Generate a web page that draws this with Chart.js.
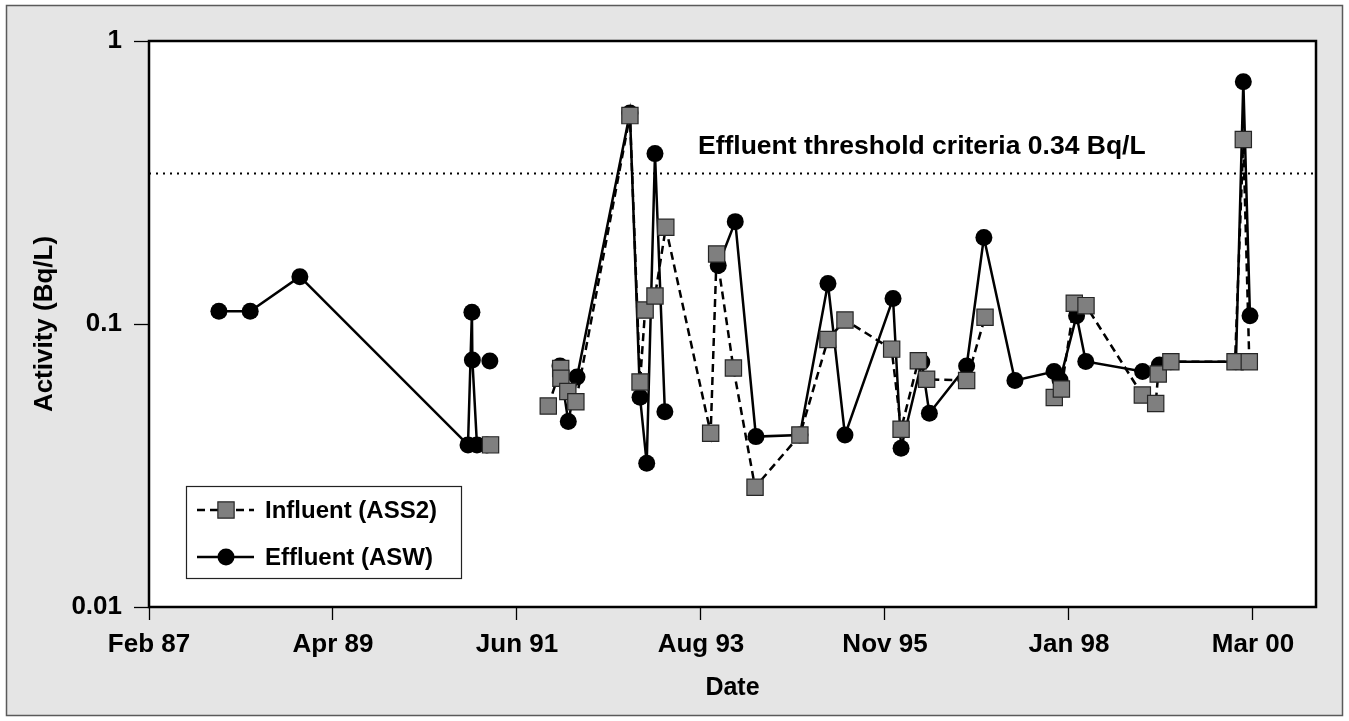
<!DOCTYPE html>
<html>
<head>
<meta charset="utf-8">
<title>Activity (Bq/L)</title>
<script src="https://cdn.jsdelivr.net/npm/chart.js@4.4.1/dist/chart.umd.min.js"></script>
<style>
  html, body { margin: 0; padding: 0; background: #fff; }
  canvas { display: block; }
</style>
</head>
<body>
<canvas id="chart" width="1349" height="721"></canvas>
<script>
// ---- data -------------------------------------------------------------
const axisStart = '1987-02-01';          // first major tick of the date axis
const tickStepDays = 800;                 // spacing of the major date ticks
const tickLabels = ['Feb 87', 'Apr 89', 'Jun 91', 'Aug 93', 'Nov 95', 'Jan 98', 'Mar 00'];
const yTickValues = [0.01, 0.1, 1];
const yTickLabels = ['0.01', '0.1', '1'];
const seriesNames = ['Influent (ASS2)', 'Effluent (ASW)'];

// null breaks the line between sampling campaigns
const influentDates = [
  '1991-02-25', '1991-06-01',
  '1991-11-03', '1991-12-27', '1991-12-28', '1992-01-27', '1992-03-02',
  '1992-10-23', '1992-12-06', '1992-12-28', '1993-02-09', '1993-03-28',
  '1993-10-09', '1993-11-04', '1994-01-16', '1994-04-20', '1994-11-01',
  '1995-03-03', '1995-05-16', '1995-12-05', '1996-01-15', '1996-03-30',
  '1996-05-05', '1996-10-26', '1997-01-14', '1997-06-01',
  '1997-11-11', '1997-12-12', '1998-02-06', '1998-03-29', '1998-11-29',
  '1999-01-26', '1999-02-06', '1999-04-02', '2000-01-06', '2000-02-11',
  '2000-03-08'
];
const influentValues = [
  0.0374, null,
  0.0513, 0.0696, 0.0643, 0.0577, 0.0531,
  0.545, 0.0624, 0.112, 0.1256, 0.2196,
  0.0411, 0.1768, 0.0699, 0.0265, 0.0405,
  0.0882, 0.1033, 0.0815, 0.0425, 0.0742,
  0.0638, 0.0631, 0.1056, null,
  0.0550, 0.0589, 0.1184, 0.1161, 0.0561,
  0.0524, 0.0666, 0.0736, 0.0736, 0.449,
  0.0736
];

const effluentDates = [
  '1987-12-02', '1988-04-16', '1988-11-18', '1990-11-19', '1990-12-06',
  '1990-12-08', '1990-12-28', '1991-02-09', '1991-02-15', '1991-02-22',
  '1991-06-01',
  '1991-12-24', '1992-01-29', '1992-03-07', '1992-10-23', '1992-12-06',
  '1993-01-04', '1993-02-09', '1993-03-24', '1993-07-01',
  '1993-11-11', '1994-01-24', '1994-04-24', '1994-11-01', '1995-03-03',
  '1995-05-16', '1995-12-11', '1996-01-15', '1996-04-14', '1996-05-17',
  '1996-10-26', '1997-01-09', '1997-05-24', '1997-11-10', '1997-12-06',
  '1998-02-16', '1998-03-28', '1998-11-30', '1999-02-11', '1999-04-02',
  '2000-01-10', '2000-02-11', '2000-03-11'
];
const effluentValues = [
  0.111, 0.111, 0.147, 0.0374, 0.110,
  0.0746, 0.0374, 0.0374, null, 0.074,
  null,
  0.0711, 0.0452, 0.0650, 0.557, 0.0551,
  0.0322, 0.400, 0.049, null,
  0.161, 0.230, 0.0400, 0.0405, 0.139,
  0.0405, 0.123, 0.0364, 0.0734, 0.0484,
  0.0711, 0.202, 0.0631, 0.0679, 0.0634,
  0.107, 0.0737, 0.0679, 0.0716, 0.0736,
  0.0736, 0.718, 0.107
];

const thresholdValue = 0.34;
const thresholdText = 'Effluent threshold criteria 0.34 Bq/L';

// ---- helpers ----------------------------------------------------------
const DAY_MS = 86400000;
const t0 = Date.parse(axisStart + 'T00:00:00Z');
const toDay = d => (Date.parse(d + 'T00:00:00Z') - t0) / DAY_MS;
const toPoints = (dates, values) => dates.map((d, i) => ({ x: toDay(d), y: values[i] }));
const axisEndDay = 5074;

const FONT = "'Liberation Sans', Arial, Helvetica, sans-serif";
const boldFont = size => ({ family: FONT, size: size, weight: 'bold', lineHeight: 1.2 });

// backgrounds, plot frame, threshold caption and the key box
const decorations = {
  id: 'decorations',
  beforeDraw(chart) {
    const { ctx, width, height, chartArea: a } = chart;
    ctx.save();
    ctx.fillStyle = '#ffffff';
    ctx.fillRect(0, 0, width, height);
    ctx.fillStyle = '#e5e5e5';
    ctx.fillRect(6, 5, width - 12, height - 10);
    ctx.strokeStyle = '#5a5a5a';
    ctx.lineWidth = 1.5;
    ctx.strokeRect(6.5, 5.5, width - 13, height - 11);
    ctx.fillStyle = '#ffffff';
    ctx.fillRect(a.left, a.top, a.right - a.left, a.bottom - a.top);
    ctx.restore();
  },
  beforeDatasetsDraw(chart) {
    const { ctx, chartArea: a } = chart;
    ctx.save();
    ctx.strokeStyle = '#000';
    ctx.lineWidth = 2.5;
    ctx.strokeRect(a.left, a.top, a.right - a.left, a.bottom - a.top);
    ctx.restore();
  },
  afterDatasetsDraw(chart) {
    const { ctx, chartArea: a, scales } = chart;
    const yLine = scales.y.getPixelForValue(thresholdValue);
    ctx.save();
    ctx.fillStyle = '#000';
    ctx.font = `bold 26.5px ${FONT}`;
    ctx.textAlign = 'left';
    ctx.textBaseline = 'alphabetic';
    ctx.fillText(thresholdText, a.left + 549, yLine - 20);

    // key box
    const bx = a.left + 37, by = a.top + 445, bw = 275, bh = 92;
    ctx.fillStyle = '#fff';
    ctx.fillRect(bx, by, bw, bh);
    ctx.strokeStyle = '#222';
    ctx.lineWidth = 1.2;
    ctx.strokeRect(bx + 0.5, by + 0.5, bw, bh);

    const rows = [by + 24, by + 71];
    const x1 = bx + 11, x2 = bx + 68, xm = bx + 40;
    const dsets = chart.data.datasets;

    rows.forEach((ry, i) => {
      const ds = dsets[i];
      ctx.save();
      ctx.strokeStyle = '#000';
      ctx.lineWidth = 2.5;
      ctx.setLineDash(ds.borderDash || []);
      ctx.beginPath();
      ctx.moveTo(x1, ry);
      ctx.lineTo(x2, ry);
      ctx.stroke();
      ctx.restore();

      ctx.save();
      ctx.fillStyle = ds.pointBackgroundColor;
      ctx.strokeStyle = ds.pointBorderColor;
      ctx.lineWidth = ds.pointBorderWidth;
      ctx.beginPath();
      if (ds.pointStyle === 'rect') {
        const s = Math.SQRT1_2 * ds.pointRadius;
        ctx.rect(xm - s, ry - s, 2 * s, 2 * s);
      } else {
        ctx.arc(xm, ry, ds.pointRadius, 0, Math.PI * 2);
      }
      ctx.fill();
      if (ds.pointBorderWidth) ctx.stroke();
      ctx.restore();

      ctx.fillStyle = '#000';
      ctx.font = `bold 24px ${FONT}`;
      ctx.textBaseline = 'middle';
      ctx.fillText(ds.label, bx + 79, ry + 1);
    });
    ctx.restore();
  }
};

new Chart(document.getElementById('chart'), {
  type: 'line',
  data: {
    datasets: [
      {
        label: seriesNames[0],
        data: toPoints(influentDates, influentValues),
        borderColor: '#000',
        borderWidth: 2.5,
        borderDash: [8, 5],
        pointStyle: 'rect',
        pointRadius: 11.5,
        pointHoverRadius: 11.5,
        pointBackgroundColor: '#7f7f7f',
        pointBorderColor: '#262626',
        pointBorderWidth: 1.2,
        tension: 0,
        spanGaps: false
      },
      {
        label: seriesNames[1],
        data: toPoints(effluentDates, effluentValues),
        borderColor: '#000',
        borderWidth: 2.5,
        pointStyle: 'circle',
        pointRadius: 8.5,
        pointHoverRadius: 8.5,
        pointBackgroundColor: '#000',
        pointBorderColor: '#000',
        pointBorderWidth: 0,
        tension: 0,
        spanGaps: false
      },
      {
        label: 'threshold',
        data: [{ x: 0, y: thresholdValue }, { x: axisEndDay, y: thresholdValue }],
        borderColor: '#000',
        borderWidth: 2,
        borderDash: [2, 5],
        pointRadius: 0,
        pointHoverRadius: 0,
        tension: 0
      }
    ]
  },
  options: {
    responsive: false,
    animation: false,
    devicePixelRatio: 1,
    events: [],
    layout: { padding: { left: 0, top: 41, right: 33, bottom: 0 } },
    plugins: { legend: { display: false }, tooltip: { enabled: false } },
    scales: {
      x: {
        type: 'linear',
        min: 0,
        max: axisEndDay,
        afterBuildTicks: s => { s.ticks = tickLabels.map((_, i) => ({ value: i * tickStepDays })); },
        afterFit: s => { s.height = 114; },
        ticks: {
          autoSkip: false,
          maxRotation: 0,
          padding: 9,
          color: '#000',
          font: boldFont(26),
          callback: v => tickLabels[Math.round(v / tickStepDays)]
        },
        grid: { drawOnChartArea: false, drawTicks: true, tickLength: 13, tickColor: '#000', tickWidth: 1.3 },
        border: { display: false },
        title: { display: true, text: 'Date', color: '#000', font: boldFont(25), padding: { top: 0, bottom: 18 } }
      },
      y: {
        type: 'logarithmic',
        min: 0.01,
        max: 1,
        afterBuildTicks: s => { s.ticks = yTickValues.map(v => ({ value: v })); },
        afterFit: s => { s.width = 149; },
        ticks: {
          padding: 12,
          color: '#000',
          font: boldFont(26),
          callback: v => {
            const i = yTickValues.findIndex(t => Math.abs(t - v) < 1e-9);
            return i >= 0 ? yTickLabels[i] : '';
          }
        },
        grid: { drawOnChartArea: false, drawTicks: true, tickLength: 15, tickColor: '#000', tickWidth: 1.3 },
        border: { display: false },
        title: { display: true, text: 'Activity (Bq/L)', color: '#000', font: boldFont(26), padding: { top: 29.4, bottom: 0 } }
      }
    }
  },
  plugins: [decorations]
});
</script>
</body>
</html>
